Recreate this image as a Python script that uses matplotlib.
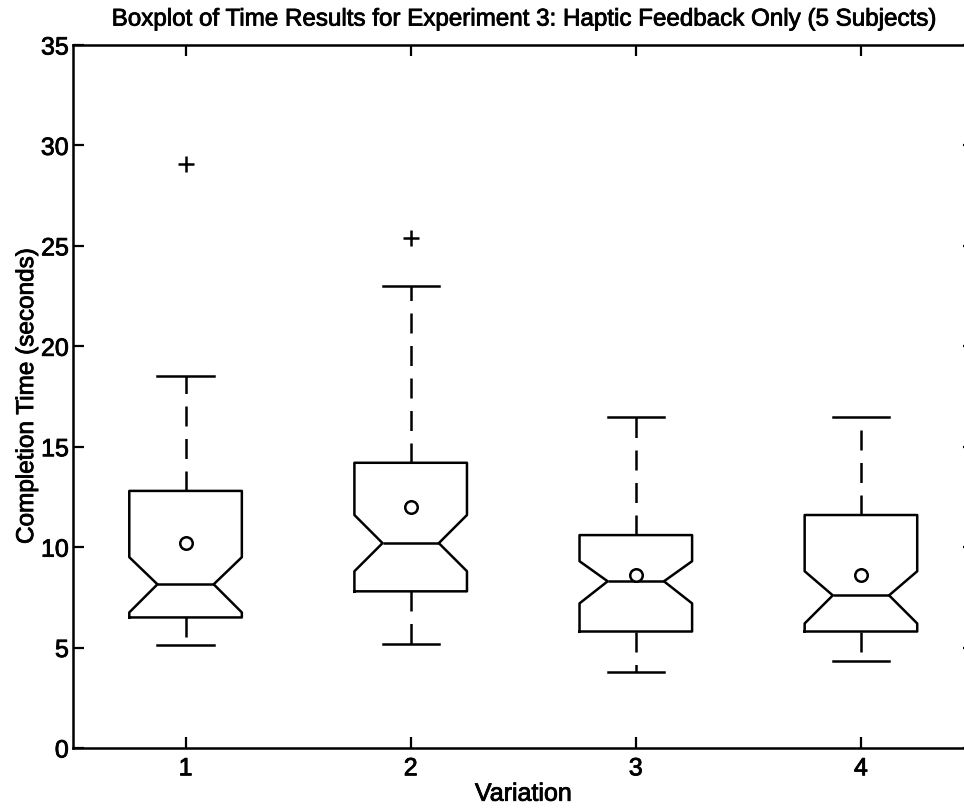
import matplotlib.pyplot as plt
import matplotlib.patheffects as pe

plt.rcParams['font.family'] = ['Liberation Sans', 'DejaVu Sans']

# values (seconds)
variations = [1, 2, 3, 4]
q1 = [6.5, 7.8, 5.8, 5.8]
q3 = [12.8, 14.2, 10.6, 11.6]
medians = [8.15, 10.2, 8.3, 7.6]
notch_lo = [6.75, 8.8, 7.2, 6.2]
notch_hi = [9.5, 11.6, 9.3, 8.8]
whisk_lo = [5.15, 5.2, 3.8, 4.35]
whisk_hi = [18.5, 23.0, 16.5, 16.5]
means = [10.2, 12.0, 8.6, 8.6]
outliers = [[29.1], [25.4], [], []]

stats = []
for i in range(len(variations)):
    stats.append(dict(med=medians[i], q1=q1[i], q3=q3[i],
                      cilo=notch_lo[i], cihi=notch_hi[i],
                      whislo=whisk_lo[i], whishi=whisk_hi[i],
                      mean=means[i], fliers=outliers[i]))

fig = plt.figure(figsize=(9.64, 8.10), dpi=100)
# the right edge of the axes is cut off in the reference
ax = fig.add_axes([73 / 964, 1 - 748 / 810, 900.5 / 964, 703 / 810])

ax.bxp(stats, positions=variations, widths=0.5, shownotches=True,
       showmeans=True, capwidths=0.25,
       boxprops=dict(color='black', linewidth=1.8),
       medianprops=dict(color='black', linewidth=1.8),
       whiskerprops=dict(color='black', linewidth=1.8, linestyle=(0, (8, 5))),
       capprops=dict(color='black', linewidth=1.8),
       meanprops=dict(marker='o', markerfacecolor='white',
                      markeredgecolor='black', markersize=9,
                      markeredgewidth=1.8),
       flierprops=dict(marker='+', markeredgecolor='black',
                       markersize=11, markeredgewidth=1.8))

ax.set_xlim(0.5, 4.5)
ax.set_ylim(0, 35)
ax.set_xticks(variations)
ax.set_yticks(range(0, 36, 5))
ax.tick_params(direction='in', length=8, width=1.6, top=True, right=True,
               labelsize=18)
ax.tick_params(axis='y', pad=3)
ax.tick_params(axis='x', pad=6)
for s in ax.spines.values():
    s.set_linewidth(1.8)

ax.set_title('Boxplot of Time Results for Experiment 3: Haptic Feedback Only (5 Subjects)',
             fontsize=17.4, pad=14)
ax.set_xlabel('Variation', fontsize=18, labelpad=1)
ax.set_ylabel('Completion Time (seconds)', fontsize=17.5, labelpad=2)

# the scanned reference text is a bit heavier than plain regular
heavy = [pe.withStroke(linewidth=0.6, foreground='black')]
for t in [ax.title, ax.xaxis.label, ax.yaxis.label] + ax.get_xticklabels() + ax.get_yticklabels():
    t.set_path_effects(heavy)

fig.savefig('out.png', dpi=100)
